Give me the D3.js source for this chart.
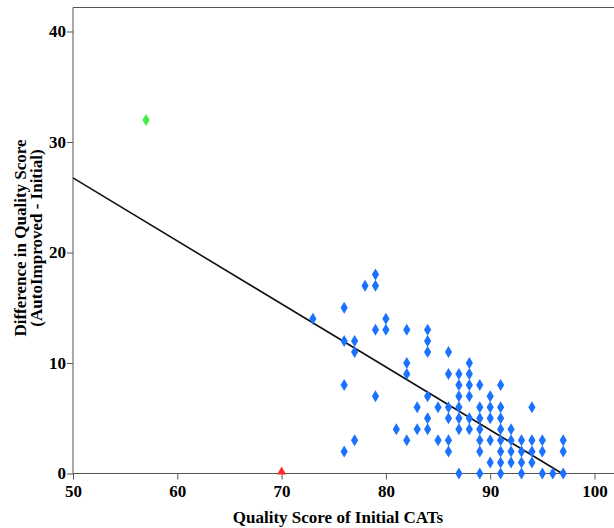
<!DOCTYPE html>
<html>
<head>
<meta charset="utf-8">
<script src="https://cdn.jsdelivr.net/npm/d3@7.9.0/dist/d3.min.js"></script>
<style>
  body { margin: 0; background: #fff; }
  svg text { font-family: "Liberation Serif", "Times New Roman", serif; font-weight: bold; fill: #000; }
</style>
</head>
<body>
<div id="chart"></div>
<script>
// initial score -> list of differences (blue points)
const initialScores = [73, 76, 77, 78, 79, 80, 81, 82, 83, 84, 85, 86, 87, 88, 89, 90, 91, 92, 93, 94, 95, 96, 97];
const differences = [
  [14],
  [15, 12, 8, 2],
  [12, 11, 3],
  [17],
  [18, 17, 13, 7],
  [14, 13],
  [4],
  [13, 10, 9, 3],
  [6, 4],
  [13, 12, 11, 7, 5, 4],
  [6, 3],
  [11, 9, 6, 5, 3, 2],
  [9, 8, 7, 6, 5, 4, 0],
  [10, 9, 8, 7, 5, 4],
  [8, 6, 5, 4, 3, 2, 0],
  [7, 6, 5, 3, 1],
  [8, 6, 5, 4, 3, 2, 1, 0],
  [4, 3, 2, 1],
  [3, 2, 1, 0],
  [6, 3, 2, 1],
  [3, 2, 0],
  [0],
  [3, 2, 0]
];
const greenPoint = [57, 32];
const redPoint = [70, 0];
const fitLine = [[50, 26.75], [96.9, 0]];

const xTicks = [50, 60, 70, 80, 90, 100];
const yTicks = [0, 10, 20, 30, 40];

const width = 614, height = 528;

const svg = d3.select("#chart").append("svg")
  .attr("width", width)
  .attr("height", height);

const x = d3.scaleLinear().domain([50, 100]).range([73, 594.5]);
const y = d3.scaleLinear().domain([0, 40]).range([473.5, 31.5]);

// frame (top line + axes)
svg.append("line")
  .attr("x1", 73).attr("x2", width)
  .attr("y1", 7.5).attr("y2", 7.5)
  .attr("stroke", "#555").attr("stroke-width", 1);

const xAxis = svg.append("g")
  .attr("transform", `translate(0, ${y(0)})`)
  .call(d3.axisBottom(x).tickValues(xTicks).tickSize(6).tickPadding(5));
xAxis.select(".domain").attr("d", `M73,0H${width}`).attr("stroke", "#555");
xAxis.selectAll(".tick line").attr("stroke", "#555");
xAxis.selectAll("text").attr("font-size", 17).attr("fill", "#000");

const yAxis = svg.append("g")
  .attr("transform", `translate(${x(50)}, 0)`)
  .call(d3.axisLeft(y).tickValues(yTicks).tickSize(6).tickPadding(1));
yAxis.select(".domain").attr("d", `M0,7.5V${y(0)}`).attr("stroke", "#555");
yAxis.selectAll(".tick line").attr("stroke", "#555");
yAxis.selectAll("text").attr("font-size", 17).attr("fill", "#000");

// axis titles
svg.append("text")
  .attr("x", 338).attr("y", 523)
  .attr("text-anchor", "middle")
  .attr("font-size", 17)
  .text("Quality Score of Initial CATs");

const yTitle = svg.append("text")
  .attr("transform", `translate(26, 238) rotate(-90)`)
  .attr("text-anchor", "middle")
  .attr("font-size", 17);
yTitle.append("tspan").attr("x", 0).attr("dy", 0).text("Difference in Quality Score");
yTitle.append("tspan").attr("x", 0).attr("dy", 16).text("(AutoImproved - Initial)");

// fit line
svg.append("line")
  .attr("x1", x(fitLine[0][0])).attr("y1", y(fitLine[0][1]))
  .attr("x2", x(fitLine[1][0])).attr("y2", y(fitLine[1][1]))
  .attr("stroke", "#111").attr("stroke-width", 1.6);

// points
const points = [];
initialScores.forEach((s, i) => {
  differences[i].forEach(d => points.push({ x: s, y: d }));
});

const diamond = "M0,-6L3.6,0L0,6L-3.6,0Z";

svg.selectAll(".pt")
  .data(points)
  .enter()
  .append("path")
  .attr("class", "pt")
  .attr("d", diamond)
  .attr("transform", d => `translate(${x(d.x)}, ${y(d.y)})`)
  .attr("fill", "#1a72ff");

svg.append("path")
  .attr("d", diamond)
  .attr("transform", `translate(${x(greenPoint[0])}, ${y(greenPoint[1])})`)
  .attr("fill", "#3cf03c");

svg.append("path")
  .attr("d", "M0,-7L4.5,1L-4.5,1Z")
  .attr("transform", `translate(${x(redPoint[0])}, ${y(redPoint[1])})`)
  .attr("fill", "#ff2a2a");
</script>
</body>
</html>
